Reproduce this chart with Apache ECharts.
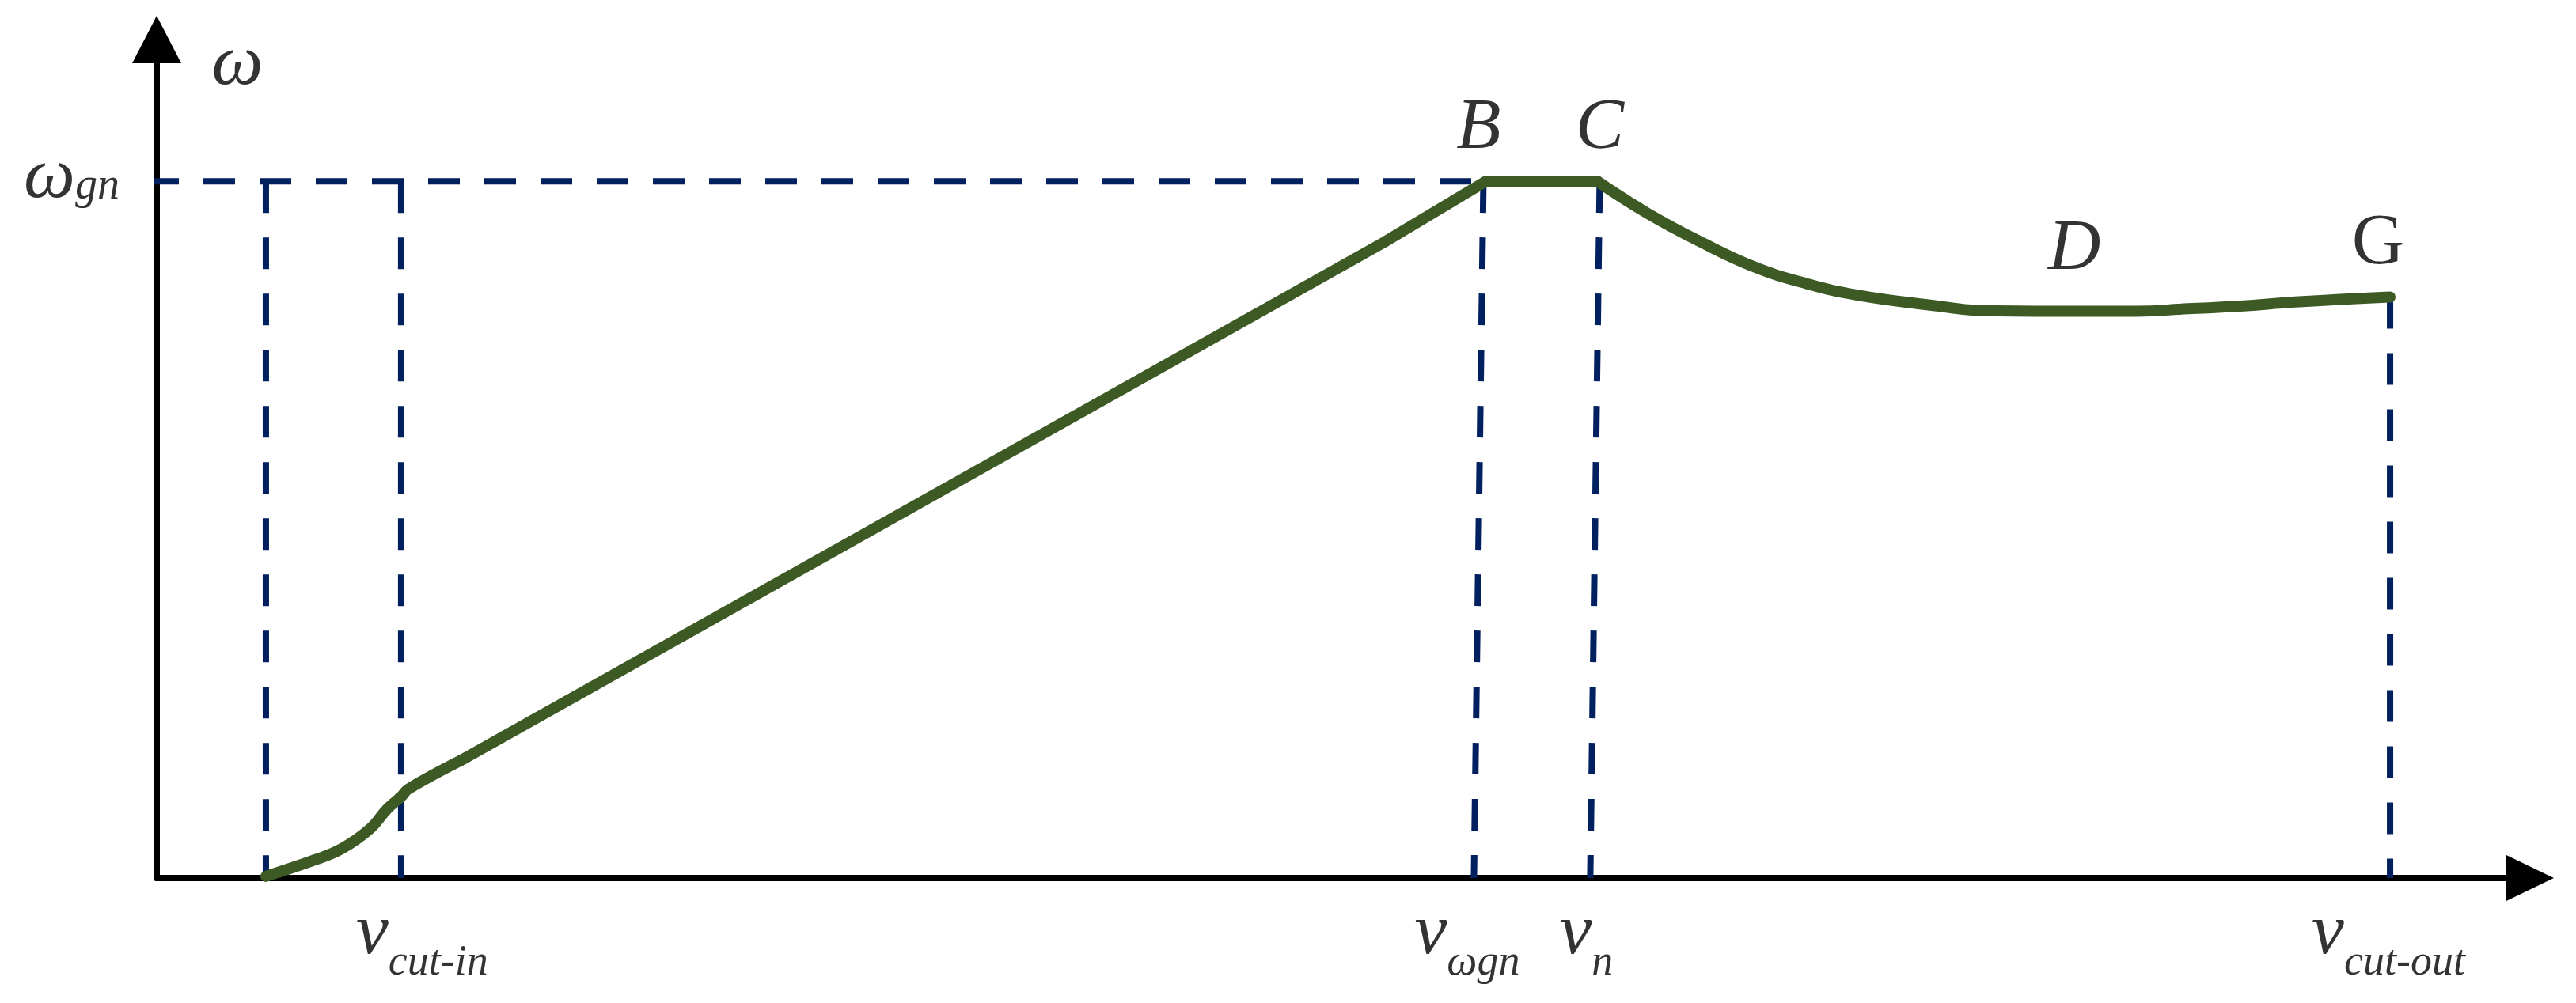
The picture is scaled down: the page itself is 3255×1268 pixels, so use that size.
<!DOCTYPE html>
<html>
<head>
<meta charset="utf-8">
<style>
html, body { margin: 0; padding: 0; background: #fff; }
#chart { width: 3255px; height: 1268px; }
</style>
<script src="https://cdn.jsdelivr.net/npm/echarts@6/dist/echarts.min.js"></script>
</head>
<body>
<div id="chart"></div>
<script>
//风速-转速曲线
var windSpeed = [4.6, 6.7, 7.8, 9.0, 9.7, 10.3, 10.6, 12.8, 51.7, 56.0, 60.7, 62.8, 65.1, 67.3, 69.5, 71.7, 75.1, 76.7, 80.1, 83.4, 85.6, 87.8, 90.1, 94.1];
var genSpeed = [0.2, 2.2, 3.5, 5.9, 8.2, 9.7, 10.6, 14.0, 75.8, 83.1, 83.1, 79.3, 75.8, 72.9, 70.9, 69.5, 68.2, 67.7, 67.6, 67.6, 67.9, 68.2, 68.7, 69.3];
//分段：启动段、线性+恒速段、下降段（下标）
var segmentStart = [0, 7, 10];
var segmentEnd = [7, 10, 23];
var segmentSmooth = [0.4, 0, 0.45];

//虚线
var ratedSpeed = 83.1;
var ratedLineX = [-0.4, 55.9];
var guideTopX = [4.6, 10.3, 55.9, 60.8, 94.1];
var guideBottomX = [4.6, 10.3, 55.5, 60.4, 94.1];
var guideTopY = [83.1, 83.1, 83.1, 83.1, 69.3];

//点标注
var pointNames = ['B', 'C', 'D', 'G'];
var pointX = [55.7, 60.8, 80.8, 93.6];
var pointY = [89.4, 89.4, 74.9, 75.6];

//横轴标注 v + 下标
var speedSubs = ['cut-in', 'ωgn', 'n', 'cut-out'];
var speedLabelX = [8.4, 53.0, 59.1, 90.8];
var speedLabelY = -7.5;

var serif = 'Liberation Serif';
var navy = '#002060';
var green = '#3d5a24';

var chart = echarts.init(document.getElementById('chart'));

var curve = windSpeed.map(function (v, i) { return [v, genSpeed[i]]; });

var dashStyle = { color: navy, width: 8, type: [40, 31], cap: 'butt' };

var series = [];
//水平虚线 ωgn
series.push({
    type: 'line', z: 2, clip: false, symbol: 'none', silent: true,
    lineStyle: dashStyle,
    data: [[ratedLineX[0], ratedSpeed], [ratedLineX[1], ratedSpeed]]
});
//竖直虚线
guideTopX.forEach(function (x, i) {
    series.push({
        type: 'line', z: 2, clip: false, symbol: 'none', silent: true,
        lineStyle: dashStyle,
        data: [[x, guideTopY[i]], [guideBottomX[i], 0]]
    });
});
//曲线
segmentStart.forEach(function (s, i) {
    series.push({
        type: 'line', z: 3, clip: false, symbol: 'none', silent: true,
        smooth: segmentSmooth[i],
        lineStyle: { color: green, width: 14, join: 'round', cap: 'round' },
        data: curve.slice(s, segmentEnd[i] + 1)
    });
});

var letterData = pointNames.map(function (n, i) {
    return {
        value: [pointX[i], pointY[i]],
        label: {
            formatter: n,
            fontStyle: n === 'G' ? 'normal' : 'italic'
        }
    };
});
var speedData = speedSubs.map(function (s, i) {
    return {
        value: [speedLabelX[i], speedLabelY],
        label: { formatter: '{v|v}{s|' + s + '}', align: 'left' }
    };
});

series.push({
    type: 'scatter', z: 5, clip: false, symbolSize: 0, silent: true,
    label: {
        show: true, position: [0, 0], align: 'center', verticalAlign: 'middle',
        color: '#000', fontFamily: serif, fontSize: 92,
        rich: {
            v: { fontFamily: serif, fontStyle: 'italic', fontSize: 92, lineHeight: 110, verticalAlign: 'top', color: '#000' },
            s: { fontFamily: serif, fontStyle: 'italic', fontSize: 54, lineHeight: 110, verticalAlign: 'bottom', color: '#000' },
            w: { fontFamily: serif, fontStyle: 'italic', fontSize: 92, lineHeight: 86, verticalAlign: 'top', color: '#000' },
            g: { fontFamily: serif, fontStyle: 'italic', fontSize: 56, lineHeight: 86, verticalAlign: 'bottom', color: '#000' }
        }
    },
    data: letterData.concat(speedData).concat([
        { value: [3.4, 97.0], label: { formatter: 'ω', fontStyle: 'italic' } },
        { value: [-5.6, 83.8], label: { formatter: '{w|ω}{g|gn}', align: 'left' } }
    ])
});

chart.setOption({
    animation: false,
    backgroundColor: '#fff',
    grid: { left: 198, right: 58, top: 50, bottom: 158 },
    xAxis: {
        type: 'value', min: 0, max: 100,
        axisLine: {
            show: true, symbol: ['none', 'triangle'], symbolSize: [58, 60],
            lineStyle: { color: '#000', width: 8 }
        },
        axisTick: { show: false }, axisLabel: { show: false }, splitLine: { show: false }
    },
    yAxis: {
        type: 'value', min: 0, max: 100,
        axisLine: {
            show: true, symbol: ['none', 'triangle'], symbolSize: [62, 60],
            lineStyle: { color: '#000', width: 8 }
        },
        axisTick: { show: false }, axisLabel: { show: false }, splitLine: { show: false }
    },
    series: series
});
</script>
</body>
</html>
